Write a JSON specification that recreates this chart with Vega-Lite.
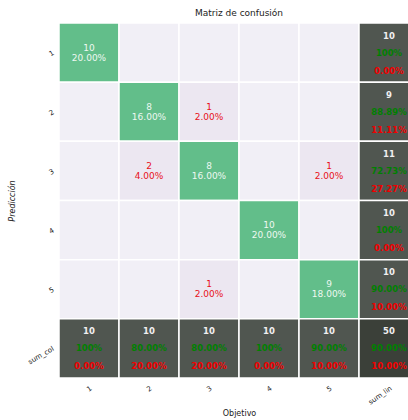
{
  "$schema": "https://vega.github.io/schema/vega-lite/v6.json",
  "autosize": "none",
  "width": 360,
  "height": 355,
  "padding": {"left": 59, "top": 23, "right": 0, "bottom": 42},
  "background": "white",
  "title": {"text": "Matriz de confusión", "font": "DejaVu Sans", "fontSize": 9, "fontWeight": "normal", "color": "#222", "offset": 4, "anchor": "middle"},
  "config": {"view": {"stroke": null}, "font": "DejaVu Sans"},
  "data": {"values": [
    {"r": "1", "c": "1", "kind": "diag", "n": "10", "p": "20.00%", "g": "", "b": ""},
    {"r": "1", "c": "2", "kind": "empty", "n": "", "p": "", "g": "", "b": ""},
    {"r": "1", "c": "3", "kind": "empty", "n": "", "p": "", "g": "", "b": ""},
    {"r": "1", "c": "4", "kind": "empty", "n": "", "p": "", "g": "", "b": ""},
    {"r": "1", "c": "5", "kind": "empty", "n": "", "p": "", "g": "", "b": ""},
    {"r": "1", "c": "sum_lin", "kind": "sum", "n": "10", "p": "", "g": "100%", "b": "0.00%"},
    {"r": "2", "c": "1", "kind": "empty", "n": "", "p": "", "g": "", "b": ""},
    {"r": "2", "c": "2", "kind": "diag", "n": "8", "p": "16.00%", "g": "", "b": ""},
    {"r": "2", "c": "3", "kind": "off", "n": "1", "p": "2.00%", "g": "", "b": ""},
    {"r": "2", "c": "4", "kind": "empty", "n": "", "p": "", "g": "", "b": ""},
    {"r": "2", "c": "5", "kind": "empty", "n": "", "p": "", "g": "", "b": ""},
    {"r": "2", "c": "sum_lin", "kind": "sum", "n": "9", "p": "", "g": "88.89%", "b": "11.11%"},
    {"r": "3", "c": "1", "kind": "empty", "n": "", "p": "", "g": "", "b": ""},
    {"r": "3", "c": "2", "kind": "off", "n": "2", "p": "4.00%", "g": "", "b": ""},
    {"r": "3", "c": "3", "kind": "diag", "n": "8", "p": "16.00%", "g": "", "b": ""},
    {"r": "3", "c": "4", "kind": "empty", "n": "", "p": "", "g": "", "b": ""},
    {"r": "3", "c": "5", "kind": "off", "n": "1", "p": "2.00%", "g": "", "b": ""},
    {"r": "3", "c": "sum_lin", "kind": "sum", "n": "11", "p": "", "g": "72.73%", "b": "27.27%"},
    {"r": "4", "c": "1", "kind": "empty", "n": "", "p": "", "g": "", "b": ""},
    {"r": "4", "c": "2", "kind": "empty", "n": "", "p": "", "g": "", "b": ""},
    {"r": "4", "c": "3", "kind": "empty", "n": "", "p": "", "g": "", "b": ""},
    {"r": "4", "c": "4", "kind": "diag", "n": "10", "p": "20.00%", "g": "", "b": ""},
    {"r": "4", "c": "5", "kind": "empty", "n": "", "p": "", "g": "", "b": ""},
    {"r": "4", "c": "sum_lin", "kind": "sum", "n": "10", "p": "", "g": "100%", "b": "0.00%"},
    {"r": "5", "c": "1", "kind": "empty", "n": "", "p": "", "g": "", "b": ""},
    {"r": "5", "c": "2", "kind": "empty", "n": "", "p": "", "g": "", "b": ""},
    {"r": "5", "c": "3", "kind": "off", "n": "1", "p": "2.00%", "g": "", "b": ""},
    {"r": "5", "c": "4", "kind": "empty", "n": "", "p": "", "g": "", "b": ""},
    {"r": "5", "c": "5", "kind": "diag", "n": "9", "p": "18.00%", "g": "", "b": ""},
    {"r": "5", "c": "sum_lin", "kind": "sum", "n": "10", "p": "", "g": "90.00%", "b": "10.00%"},
    {"r": "sum_col", "c": "1", "kind": "sum", "n": "10", "p": "", "g": "100%", "b": "0.00%"},
    {"r": "sum_col", "c": "2", "kind": "sum", "n": "10", "p": "", "g": "80.00%", "b": "20.00%"},
    {"r": "sum_col", "c": "3", "kind": "sum", "n": "10", "p": "", "g": "80.00%", "b": "20.00%"},
    {"r": "sum_col", "c": "4", "kind": "sum", "n": "10", "p": "", "g": "100%", "b": "0.00%"},
    {"r": "sum_col", "c": "5", "kind": "sum", "n": "10", "p": "", "g": "90.00%", "b": "10.00%"},
    {"r": "sum_col", "c": "sum_lin", "kind": "total", "n": "50", "p": "", "g": "90.00%", "b": "10.00%"}
  ]},
  "encoding": {
    "x": {"field": "c", "type": "ordinal", "sort": ["1","2","3","4","5","sum_lin"], "scale": {"paddingInner": 0, "paddingOuter": 0},
      "axis": {"title": "Objetivo", "titleFont": "DejaVu Sans", "titleFontSize": 8, "titleFontWeight": "normal", "titleColor": "#222", "titlePadding": 4, "labelAngle": -35, "labelFontSize": 7, "labelColor": "#222", "domain": false, "ticks": false, "labelPadding": 6}},
    "y": {"field": "r", "type": "ordinal", "sort": ["1","2","3","4","5","sum_col"], "scale": {"paddingInner": 0, "paddingOuter": 0},
      "axis": {"title": "Predicción", "titleFont": "DejaVu Sans", "titleFontSize": 8, "titleFontStyle": "italic", "titleFontWeight": "normal", "titleColor": "#222", "titlePadding": 10, "labelAngle": -30, "labelFontSize": 7, "labelColor": "#222", "domain": false, "ticks": false, "labelPadding": 6}}
  },
  "layer": [
    {"mark": {"type": "rect", "stroke": "white", "strokeWidth": 1.5},
     "encoding": {"color": {"field": "kind", "type": "nominal", "legend": null,
       "scale": {"domain": ["diag", "off", "empty", "sum", "total"], "range": ["#62be8a", "#ece7f1", "#f1eff6", "#505650", "#3b4039"]}}}},
    {"transform": [{"filter": "datum.kind == 'diag' || datum.kind == 'off'"}],
     "mark": {"type": "text", "fontSize": 9, "yOffset": -5},
     "encoding": {"text": {"field": "n"}, "color": {"condition": {"test": "datum.kind == 'diag'", "value": "#eef8f1"}, "value": "#e8101a"}}},
    {"transform": [{"filter": "datum.kind == 'diag' || datum.kind == 'off'"}],
     "mark": {"type": "text", "fontSize": 9, "yOffset": 5},
     "encoding": {"text": {"field": "p"}, "color": {"condition": {"test": "datum.kind == 'diag'", "value": "#eef8f1"}, "value": "#e8101a"}}},
    {"transform": [{"filter": "datum.kind == 'sum' || datum.kind == 'total'"}],
     "mark": {"type": "text", "fontSize": 8.5, "fontWeight": "bold", "yOffset": -17, "color": "#f0f0f0"},
     "encoding": {"text": {"field": "n"}}},
    {"transform": [{"filter": "datum.kind == 'sum' || datum.kind == 'total'"}],
     "mark": {"type": "text", "fontSize": 8.5, "fontWeight": "bold", "yOffset": 0, "color": "#008000"},
     "encoding": {"text": {"field": "g"}}},
    {"transform": [{"filter": "datum.kind == 'sum' || datum.kind == 'total'"}],
     "mark": {"type": "text", "fontSize": 8.5, "fontWeight": "bold", "yOffset": 18, "color": "#f00000"},
     "encoding": {"text": {"field": "b"}}}
  ]
}
